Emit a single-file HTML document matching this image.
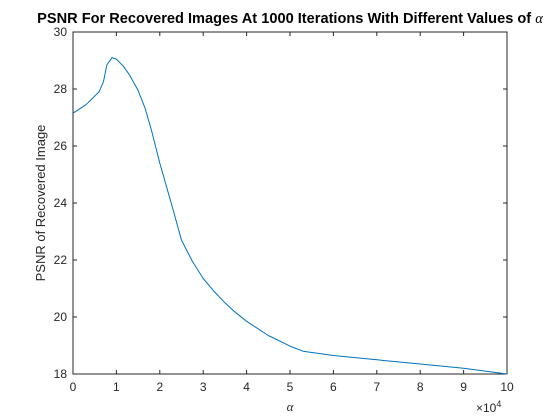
<!DOCTYPE html>
<html><head><meta charset="utf-8"><style>
body{margin:0;background:#fff;}
svg{display:block;font-family:"Liberation Sans",sans-serif;}
</style></head><body>
<svg id="chart" width="560" height="420" viewBox="0 0 560 420">
<rect width="560" height="420" fill="#fff"/>
<text x="290" y="23" text-anchor="middle" font-size="14.6" font-weight="bold" fill="#000">PSNR For Recovered Images At 1000 Iterations With Different Values of <tspan font-family="Liberation Serif" font-style="italic" font-weight="normal">α</tspan></text>
<g id="axes"></g>
<path id="line" fill="none" stroke="#0072BD" stroke-width="1" stroke-linejoin="round"/>
<text transform="translate(45,203) rotate(-90)" text-anchor="middle" font-size="13" fill="#262626">PSNR of Recovered Image</text>
<text x="290" y="411" text-anchor="middle" font-size="13" font-family="Liberation Serif" font-style="italic" fill="#262626">α</text>
<text x="476" y="412" font-size="12" fill="#262626">×10<tspan dy="-5" font-size="9">4</tspan></text>
</svg>
<script>
const xVals=[0,0.3,0.6,0.7,0.78,0.9,1.0,1.16,1.3,1.5,1.66,1.8,2.0,2.3,2.5,2.75,3,3.25,3.5,3.75,4,4.5,5,5.3,6,7,8,9,10];
const yVals=[27.15,27.45,27.9,28.25,28.85,29.1,29.05,28.8,28.5,27.95,27.33,26.6,25.4,23.8,22.7,21.95,21.35,20.9,20.5,20.15,19.85,19.35,18.98,18.8,18.65,18.5,18.35,18.2,18.0];
const xTicks=[0,1,2,3,4,5,6,7,8,9,10];
const yTicks=[18,20,22,24,26,28,30];
const L=73,R=507,T=32,B=374;
const sx=v=>L+(v-0)/10*(R-L);
const sy=v=>B-(v-18)/12*(B-T);
const ns="http://www.w3.org/2000/svg";
const ax=document.getElementById('axes');
function mk(t,a){const e=document.createElementNS(ns,t);for(const k in a)e.setAttribute(k,a[k]);ax.appendChild(e);return e;}
const box=mk('rect',{x:L,y:T,width:R-L,height:B-T,fill:'none',stroke:'#262626','stroke-width':1});


xTicks.forEach(v=>{
 const x=sx(v);
 const t1=mk('line',{x1:x,x2:x,y1:B,y2:B-4,stroke:'#262626'});
 
 
 const t2=mk('line',{x1:x,x2:x,y1:T,y2:T+4,stroke:'#262626'});
 
 
 const l=mk('text',{x:x,y:B+17,'text-anchor':'middle','font-size':12,fill:'#262626'});
 l.textContent=v;
 
 
});
yTicks.forEach(v=>{
 const y=sy(v);
 const t1=mk('line',{x1:L,x2:L+4,y1:y,y2:y,stroke:'#262626'});
 
 
 const t2=mk('line',{x1:R,x2:R-4,y1:y,y2:y,stroke:'#262626'});
 
 
 const l=mk('text',{x:L-6,y:y+4,'text-anchor':'end','font-size':12,fill:'#262626'});
 l.textContent=v;
 
 
});
document.getElementById('line').setAttribute('d',xVals.map((v,i)=>(i?'L':'M')+sx(v).toFixed(1)+','+sy(yVals[i]).toFixed(1)).join(''));
</script>
</body></html>
